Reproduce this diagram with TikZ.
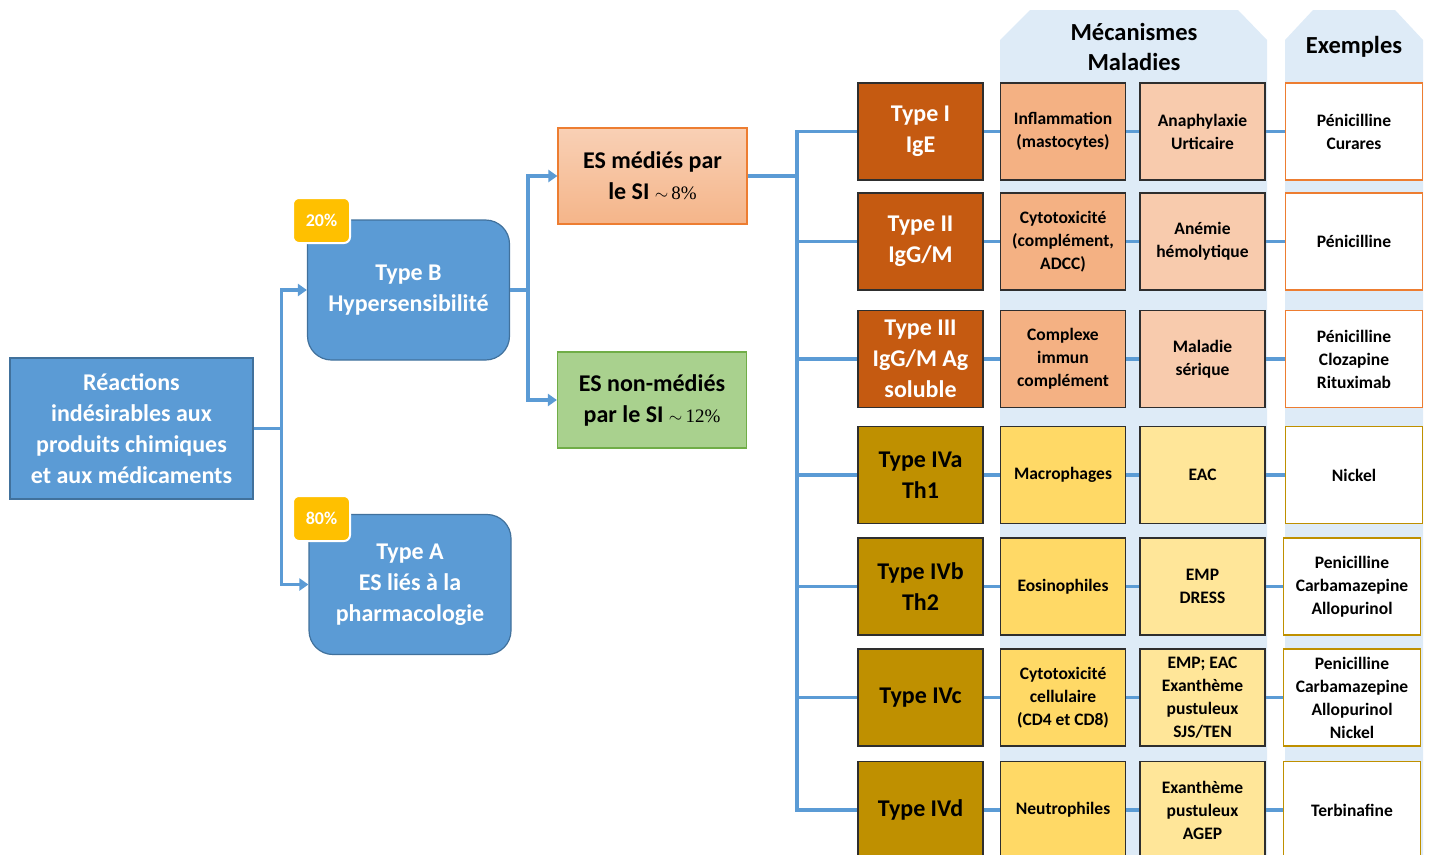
\documentclass[tikz,border=0pt]{standalone}
\usepackage{fontspec}
\setmainfont{Carlito}
\newfontfamily\numfont{Liberation Serif}
\usetikzlibrary{positioning,arrows.meta}
\definecolor{sblue}{HTML}{5B9BD5}
\definecolor{sbluedark}{HTML}{41719C}
\definecolor{paleblue}{HTML}{DEEBF7}
\definecolor{gold}{HTML}{FFC000}
\definecolor{rust}{HTML}{C55A11}
\definecolor{ochre}{HTML}{BF9000}
\definecolor{salmon}{HTML}{F4B183}
\definecolor{peach}{HTML}{F8CBAD}
\definecolor{sand}{HTML}{FFD966}
\definecolor{cream}{HTML}{FFE699}
\definecolor{orangeline}{HTML}{ED7D31}
\definecolor{leaf}{HTML}{A9D18E}
\definecolor{leafline}{HTML}{70AD47}
\definecolor{boxline}{HTML}{2E2E2E}

\begin{document}
\begin{tikzpicture}[x=1pt, y=-1pt,
    big/.style={font=\bfseries\fontsize{24}{31}\selectfont, align=center, inner sep=0pt},
    small/.style={font=\bfseries\fontsize{17.5}{23}\selectfont, align=center, inner sep=0pt},
    root/.style={big, rectangle, fill=sblue, draw=sbluedark, line width=1.2pt, text=white, minimum width=243pt, minimum height=141pt},
    branch/.style={big, rectangle, rounded corners=24pt, fill=sblue, draw=sbluedark, line width=1.2pt, text=white, minimum width=202pt, minimum height=140pt},
    badge/.style={rectangle, rounded corners=6pt, fill=gold, draw=white, line width=2pt, text=white, font=\bfseries\fontsize{18}{20}\selectfont, minimum width=57pt, minimum height=45pt, inner sep=0pt},
    esbox/.style={big, rectangle, line width=1.2pt, minimum width=189pt, minimum height=96pt},
    typebox/.style={big, rectangle, draw=boxline, line width=1.5pt, minimum width=125pt, minimum height=97pt},
    cellbox/.style={small, rectangle, draw=boxline, line width=1.5pt, minimum width=125pt, minimum height=97pt},
    exbox/.style={small, rectangle, fill=white, line width=1.5pt, minimum width=137pt, minimum height=97pt},
    link/.style={draw=sblue, line width=3.5pt},
    head/.style={font=\bfseries\fontsize{24.5}{30}\selectfont, align=center, inner sep=0pt}
  ]
  \useasboundingbox (0,0) rectangle (1429,854);

  % header columns
  \fill[paleblue] (1000,880) -- (1000,40) -- (1030,10) -- (1238,10) -- (1267,40) -- (1267,880) -- cycle;
  \fill[paleblue] (1285,880) -- (1285,40) -- (1313,10) -- (1395,10) -- (1423,40) -- (1423,880) -- cycle;
  \node[head] (mechhead) at (1134,47) {Mécanismes\\Maladies};
  \node[head] (exhead) at (1354,47) {Exemples};

  % left part
  \node[root] (reactions) at (131.5,428.5) {Réactions\\indésirables aux\\produits chimiques\\et aux médicaments};
  \node[branch] (typeb) at (408.5,290) {Type B\\Hypersensibilité};
  \node[branch] (typea) at (410,584.5) {Type A\\ES liés à la\\pharmacologie};
  \node[badge] (badgeb) at (321.5,220.5) {20\%};
  \node[badge] (badgea) at (321.5,518.5) {80\%};
  \node[esbox, draw=orangeline, top color=peach!90!white, bottom color=salmon!85!peach] (esmed) at (652.5,176)
    {ES médiés par\\le SI {\mdseries\fontsize{19}{31}\selectfont$\sim$\,\numfont 8\%}};
  \node[esbox, draw=leafline, fill=leaf] (esnon) at (652,400)
    {ES non-médiés\\par le SI {\mdseries\fontsize{19}{31}\selectfont$\sim$\,\numfont 12\%}};

  % types
  \node[typebox, fill=rust, text=white] (typeone) at (920.5,131.5) {Type I\\IgE};
  \node[typebox, fill=rust, text=white] (typetwo) at (920.5,241.5) {Type II\\IgG/M};
  \node[typebox, fill=rust, text=white] (typethree) at (920.5,359) {Type III\\IgG/M Ag\\soluble};
  \node[typebox, fill=ochre] (typefoura) at (920.5,475) {Type IVa\\Th1};
  \node[typebox, fill=ochre] (typefourb) at (920.5,586.5) {Type IVb\\Th2};
  \node[typebox, fill=ochre] (typefourc) at (920.5,697.5) {Type IVc};
  \node[typebox, fill=ochre] (typefourd) at (920.5,810) {Type IVd};

  % mechanisms
  \node[cellbox, fill=salmon] (mechone) [right=16pt of typeone] {Inflammation\\(mastocytes)};
  \node[cellbox, fill=salmon] (mechtwo) [right=16pt of typetwo] {Cytotoxicité\\(complément,\\ADCC)};
  \node[cellbox, fill=salmon] (mechthree) [right=16pt of typethree] {Complexe\\immun\\complément};
  \node[cellbox, fill=sand] (mechfoura) [right=16pt of typefoura] {Macrophages};
  \node[cellbox, fill=sand] (mechfourb) [right=16pt of typefourb] {Eosinophiles};
  \node[cellbox, fill=sand] (mechfourc) [right=16pt of typefourc] {Cytotoxicité\\cellulaire\\(CD4 et CD8)};
  \node[cellbox, fill=sand] (mechfourd) [right=16pt of typefourd] {Neutrophiles};

  % diseases
  \node[cellbox, fill=peach] (disone) [right=13pt of mechone] {Anaphylaxie\\Urticaire};
  \node[cellbox, fill=peach] (distwo) [right=13pt of mechtwo] {Anémie\\hémolytique};
  \node[cellbox, fill=peach] (disthree) [right=13pt of mechthree] {Maladie\\sérique};
  \node[cellbox, fill=cream] (disfoura) [right=13pt of mechfoura] {EAC};
  \node[cellbox, fill=cream] (disfourb) [right=13pt of mechfourb] {EMP\\DRESS};
  \node[cellbox, fill=cream] (disfourc) [right=13pt of mechfourc] {EMP; EAC\\Exanthème\\pustuleux\\SJS/TEN};
  \node[cellbox, fill=cream] (disfourd) [right=13pt of mechfourd] {Exanthème\\pustuleux\\AGEP};

  % examples
  \node[exbox, draw=orangeline] (exone) [right=19pt of disone] {Pénicilline\\Curares};
  \node[exbox, draw=orangeline] (extwo) [right=19pt of distwo] {Pénicilline};
  \node[exbox, draw=orangeline] (exthree) [right=19pt of disthree] {Pénicilline\\Clozapine\\Rituximab};
  \node[exbox, draw=ochre] (exfoura) [right=19pt of disfoura] {Nickel};
  \node[exbox, draw=ochre] (exfourb) [right=17pt of disfourb] {Penicilline\\Carbamazepine\\Allopurinol};
  \node[exbox, draw=ochre] (exfourc) [right=17pt of disfourc] {Penicilline\\Carbamazepine\\Allopurinol\\Nickel};
  \node[exbox, draw=ochre] (exfourd) [right=17pt of disfourd] {Terbinafine};

  % connectors
  \begin{scope}[link, -{Triangle[length=9pt, width=12pt]}]
  \draw[-] (reactions.east) -- ++(28,0) coordinate (splitroot);
  \draw (splitroot) |- (typeb.west);
  \draw (splitroot) |- (typea.west);
  \draw[-] (typeb.east) -- ++(18,0) coordinate (splitb);
  \draw (splitb) |- (esmed.west);
  \draw (splitb) |- (esnon.west);
  \end{scope}
  \draw[link] (esmed.east) -- (797,176) coordinate (trunk);
  \draw[link] (trunk) |- (typeone.west);
  \draw[link] (trunk) |- (typetwo.west);
  \draw[link] (trunk) |- (typethree.west);
  \draw[link] (trunk) |- (typefoura.west);
  \draw[link] (trunk) |- (typefourb.west);
  \draw[link] (trunk) |- (typefourc.west);
  \draw[link] (trunk) |- (typefourd.west);
  \draw[link] (typeone) -- (mechone) (mechone) -- (disone) (disone) -- (exone);
  \draw[link] (typetwo) -- (mechtwo) (mechtwo) -- (distwo) (distwo) -- (extwo);
  \draw[link] (typethree) -- (mechthree) (mechthree) -- (disthree) (disthree) -- (exthree);
  \draw[link] (typefoura) -- (mechfoura) (mechfoura) -- (disfoura) (disfoura) -- (exfoura);
  \draw[link] (typefourb) -- (mechfourb) (mechfourb) -- (disfourb) (disfourb) -- (exfourb);
  \draw[link] (typefourc) -- (mechfourc) (mechfourc) -- (disfourc) (disfourc) -- (exfourc);
  \draw[link] (typefourd) -- (mechfourd) (mechfourd) -- (disfourd) (disfourd) -- (exfourd);
\end{tikzpicture}
\end{document}
